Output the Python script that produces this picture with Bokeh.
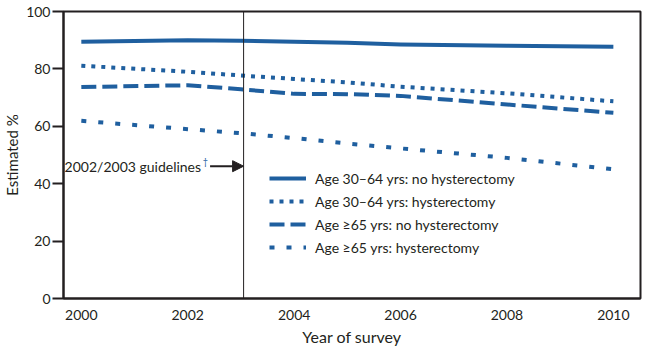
from bokeh.plotting import figure
from bokeh.models import (Span, Arrow, NormalHead, Label, Legend, LegendItem,
                          FixedTicker, Range1d)
from bokeh.embed import file_html
from bokeh.resources import INLINE

# ---- data ----
years = [2000, 2002, 2003, 2004, 2005, 2006, 2008, 2010]
age30_no_hyst = [89.5, 90.0, 89.8, 89.5, 89.1, 88.5, 88.1, 87.7]
age30_hyst = [81.1, 79.0, 77.7, 76.5, 75.3, 73.8, 71.5, 68.7]
age65_no_hyst = [73.7, 74.3, 72.9, 71.3, 71.2, 70.6, 67.6, 64.7]
age65_hyst = [61.9, 59.0, 57.6, 55.9, 54.0, 52.3, 49.0, 45.0]
series_labels = [
    "Age 30\u201364 yrs: no hysterectomy",
    "Age 30\u201364 yrs: hysterectomy",
    "Age \u226565 yrs: no hysterectomy",
    "Age \u226565 yrs: hysterectomy",
]
x_ticks = [2000, 2002, 2004, 2006, 2008, 2010]
y_ticks = [0, 20, 40, 60, 80, 100]
guideline_year = 2003.05
guideline_text = "2002/2003 guidelines"
guideline_level = 46.1

FONT = "Lato"
INK = "#231f20"
BLUE = "#1f5f9f"

p = figure(width=655, height=351, output_backend="svg", toolbar_location=None,
           x_range=Range1d(1999.665, 2010.51), y_range=Range1d(0, 100),
           min_border_left=61, min_border_right=15, min_border_top=11,
           min_border_bottom=53)
p.background_fill_color = "white"
p.border_fill_color = "white"
p.outline_line_color = INK
p.outline_line_width = 2
p.xgrid.visible = False
p.ygrid.visible = False

for ax in (p.xaxis[0], p.yaxis[0]):
    ax.axis_line_color = INK
    ax.axis_line_width = 2
    ax.major_tick_line_color = INK
    ax.major_tick_line_width = 2
    ax.minor_tick_line_color = None
    ax.major_tick_in = 0
    ax.major_label_text_font = FONT
    ax.major_label_text_font_size = "14px"
    ax.major_label_text_color = INK
    ax.axis_label_text_font = FONT
    ax.axis_label_text_font_style = "normal"
    ax.axis_label_text_color = INK

p.xaxis.ticker = FixedTicker(ticks=x_ticks)
p.yaxis.ticker = FixedTicker(ticks=y_ticks)
p.xaxis.major_tick_out = 0
p.xaxis.major_label_standoff = 11
p.xaxis.axis_label = "Year of survey"
p.xaxis.axis_label_text_font_size = "16px"
p.xaxis.axis_label_standoff = 4
p.yaxis.major_tick_out = 11
p.yaxis.major_label_standoff = 2
p.yaxis.axis_label = "Estimated %"
p.yaxis.axis_label_text_font_size = "15px"
p.yaxis.axis_label_standoff = 2

p.add_layout(Span(location=guideline_year, dimension="height",
                  line_color=INK, line_width=1))

styles = [None, "4 6", "15 6", "5 12"]
series = [age30_no_hyst, age30_hyst, age65_no_hyst, age65_hyst]
renderers = []
for vals, dash in zip(series, styles):
    kw = dict(line_color=BLUE, line_width=4, line_cap="butt", line_join="round")
    if dash:
        kw["line_dash"] = dash
    renderers.append(p.line(years, vals, **kw))

legend = Legend(items=[LegendItem(label=l, renderers=[r])
                       for l, r in zip(series_labels, renderers)],
                location=(206, 41), glyph_width=37, glyph_height=20,
                label_height=20, spacing=3, padding=0, margin=0,
                border_line_color=None, background_fill_alpha=0,
                label_standoff=9, label_text_font=FONT,
                label_text_font_size="14px", label_text_color=INK)
p.add_layout(legend)

arrow_start = guideline_year - 0.63
p.add_layout(Arrow(end=NormalHead(size=11, fill_color=INK, line_color=INK),
                   x_start=arrow_start, y_start=guideline_level,
                   x_end=guideline_year, y_end=guideline_level,
                   line_color=INK, line_width=2))
p.add_layout(Label(x=arrow_start, y=guideline_level, text=guideline_text,
                   text_align="right", text_baseline="middle", x_offset=-9,
                   text_font=FONT, text_font_size="14px", text_color=INK))
p.add_layout(Label(x=arrow_start, y=guideline_level, text="\u2020",
                   text_align="right", text_baseline="middle", x_offset=-2,
                   y_offset=5, text_font=FONT, text_font_size="9px",
                   text_color=BLUE))

open("out.html", "w").write(file_html(p, INLINE))
